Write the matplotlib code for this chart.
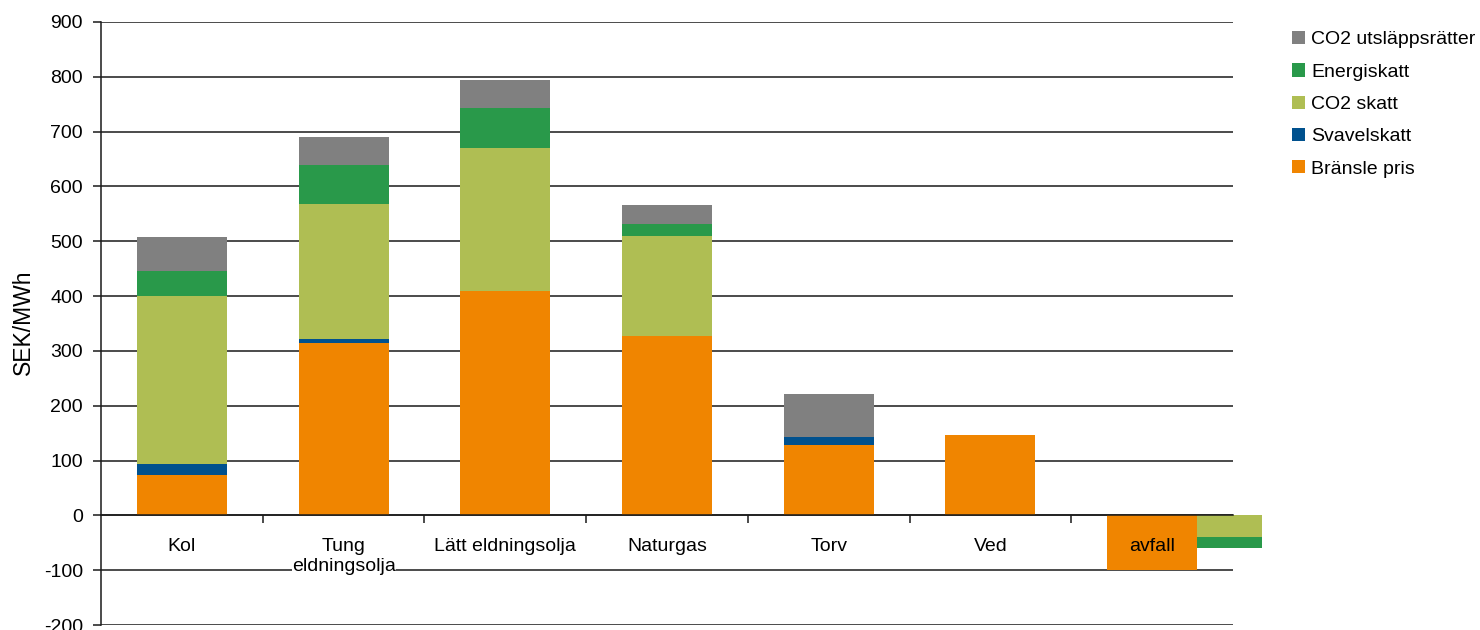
import matplotlib
matplotlib.use("Agg")
import matplotlib.pyplot as plt
from matplotlib.patches import Patch
import numpy as np

plt.rcParams['font.family'] = ['Liberation Sans', 'DejaVu Sans']
plt.rcParams['axes.unicode_minus'] = False

# Fuel cost components, SEK/MWh
categories = ["Kol", "Tung\neldningsolja", "Lätt eldningsolja", "Naturgas", "Torv", "Ved", "avfall"]
bransle_pris = [73, 314, 409, 327, 128, 147, -100]
svavelskatt = [20, 7, 0, 0, 15, 0, 0]
co2_skatt = [308, 247, 261, 182, 0, 0, 0]
energiskatt = [44, 72, 74, 22, 0, 0, 0]
co2_utslapp = [62, 51, 51, 36, 78, 0, 0]

# Waste: tax components shown as a separate column beside the fuel price
avfall_co2_skatt = -40
avfall_energiskatt = -20

series_names = ["Bränsle pris", "Svavelskatt", "CO2 skatt", "Energiskatt", "CO2 utsläppsrätter"]
colors = ["#F08500", "#00518E", "#AFBE53", "#29994A", "#808080"]
y_ticks = list(range(-200, 901, 100))

fig = plt.figure(figsize=(14.8, 6.3), dpi=100)
ax = fig.add_axes([101 / 1480, 5 / 630, 1132 / 1480, 603 / 630])

x = np.arange(len(categories))
width = 0.557
series = [bransle_pris, svavelskatt, co2_skatt, energiskatt, co2_utslapp]
bottom = np.zeros(len(categories))
for vals, col in zip(series, colors):
    vals = np.array(vals, dtype=float)
    ax.bar(x, vals, width, bottom=np.where(vals < 0, 0, bottom), color=col,
           linewidth=0, zorder=1)
    bottom = bottom + np.where(vals > 0, vals, 0)

# side column for waste taxes
side_x = x[-1] + width / 2 + 0.20
side_w = 0.40
ax.bar(side_x, avfall_co2_skatt, side_w, color=colors[2], linewidth=0, clip_on=False, zorder=1)
ax.bar(side_x, avfall_energiskatt, side_w, bottom=avfall_co2_skatt, color=colors[3],
       linewidth=0, clip_on=False, zorder=1)

ax.set_xlim(-0.5, len(categories) - 0.5)
ax.set_ylim(-200, 900)
ax.set_yticks(y_ticks)
ax.yaxis.grid(True, color="#1a1a1a", linewidth=1.1)
ax.yaxis.set_zorder(0.5)
ax.xaxis.set_zorder(3)

for s in ("top", "right"):
    ax.spines[s].set_visible(False)
ax.spines["left"].set_color("#1a1a1a")
ax.spines["left"].set_linewidth(1.1)
ax.spines["bottom"].set_position(("data", 0))
ax.spines["bottom"].set_color("#1a1a1a")
ax.spines["bottom"].set_linewidth(1.1)

ax.tick_params(axis="y", length=6, width=1.1, pad=7, labelsize=14, colors="#1a1a1a",
               labelcolor="black")
ax.set_xticks(x)
ax.set_xticklabels(categories, fontsize=14, linespacing=1.3)
ax.set_xticks(np.arange(0.5, len(categories) - 1, 1.0), minor=True)
ax.tick_params(axis="x", which="major", length=0, pad=16)
ax.tick_params(axis="x", which="minor", length=6, width=1.1, color="#1a1a1a")
ax.get_xticklabels()[1].set_bbox(dict(facecolor="white", edgecolor="none", pad=0))

fig.text(23 / 1480, 1 - 322 / 630, "SEK/MWh", rotation=90, ha="center", va="center",
         fontsize=16.5)

handles = [Patch(facecolor=c, edgecolor="none") for c in colors][::-1]
fig.legend(handles, series_names[::-1], loc="upper left",
           bbox_to_anchor=(1292 / 1480, 1 - 31 / 630), frameon=False, fontsize=14,
           handlelength=0.68, handleheight=0.68, handletextpad=0.3, labelspacing=0.76,
           borderpad=0, borderaxespad=0)

fig.savefig("out.png", dpi=100)
